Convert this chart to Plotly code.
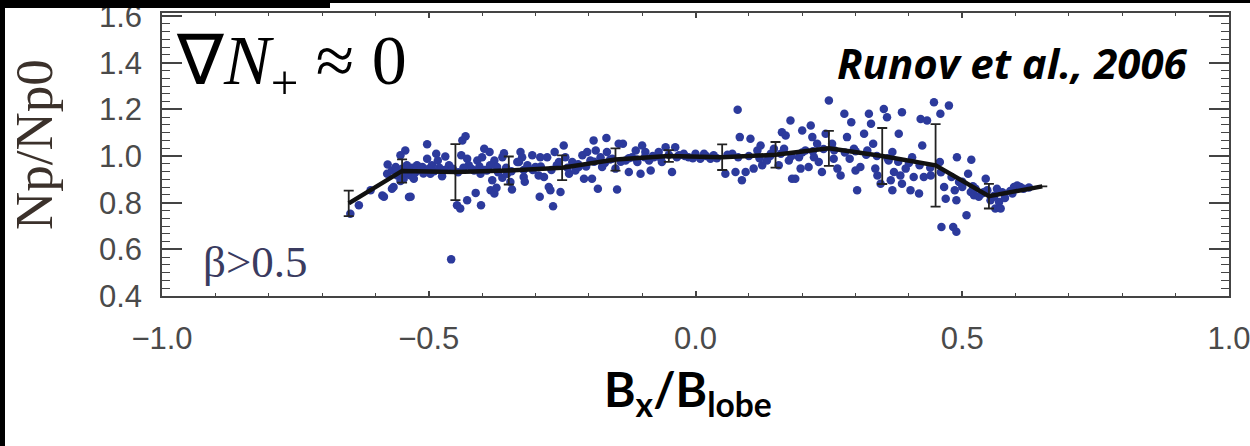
import plotly.graph_objects as go

# ---------------- data ----------------
bx = [
    -0.647, -0.631, -0.609, -0.587, -0.566, -0.578, -0.537, -0.584, -0.569, -0.534,
    -0.577, -0.569, -0.559, -0.553, -0.544, -0.553, -0.541, -0.531, -0.522, -0.512,
    -0.534, -0.503, -0.503, -0.494, -0.486, -0.483, -0.475, -0.469, -0.462, -0.437,
    -0.431, -0.447, -0.441, -0.428, -0.412, -0.402, -0.439, -0.428, -0.425, -0.409,
    -0.400, -0.396, -0.386, -0.377, -0.372, -0.381, -0.384, -0.377, -0.373, -0.362,
    -0.359, -0.362, -0.353, -0.347, -0.344, -0.334, -0.403, -0.391, -0.415, -0.497,
    -0.562, -0.547, -0.528, -0.458,
    -0.328, -0.325, -0.331, -0.322, -0.322, -0.320, -0.306, -0.300, -0.291, -0.294,
    -0.292, -0.284, -0.278, -0.275, -0.272, -0.267, -0.264, -0.256, -0.253, -0.247,
    -0.244, -0.237, -0.231, -0.225, -0.219, -0.212, -0.209, -0.203, -0.197, -0.194,
    -0.191, -0.187, -0.183, -0.178, -0.175, -0.167, -0.166, -0.156, -0.150, -0.147,
    -0.144, -0.136, -0.131, -0.125, -0.119, -0.112, -0.109, -0.103, -0.100, -0.094,
    -0.087, -0.084, -0.078, -0.069, -0.063, -0.056, -0.044, -0.038, -0.031, -0.022,
    -0.013, 0.000, 0.009,
    0.016, 0.028, 0.034, 0.056, 0.069, 0.075, 0.079, 0.083, 0.087, 0.094,
    0.103, 0.109, 0.116, 0.122, 0.125, 0.134, 0.141, 0.147, 0.156, 0.162,
    0.166, 0.169, 0.175, 0.178, 0.181, 0.187, 0.194, 0.197, 0.200, 0.206,
    0.212, 0.216, 0.219, 0.222, 0.228, 0.231, 0.237, 0.244, 0.250, 0.256,
    0.259, 0.266, 0.272, 0.279, 0.284, 0.289, 0.292, 0.297, 0.300, 0.303,
    0.309, 0.316, 0.322, 0.325, 0.329, 0.333, 0.337, 0.341, 0.347,
    0.353, 0.359, 0.369, 0.362, 0.366, 0.372, 0.369, 0.381, 0.387, 0.384,
    0.387, 0.394, 0.403, 0.406, 0.409, 0.419, 0.422, 0.425, 0.428, 0.434,
    0.441, 0.447, 0.459, 0.458, 0.466, 0.469, 0.475, 0.461, 0.483, 0.489,
    0.486, 0.490, 0.494, 0.489, 0.500, 0.508, 0.511, 0.517, 0.516, 0.522,
    0.525, 0.531, 0.537, 0.544, 0.547, 0.553, 0.559, 0.562, 0.565, 0.569,
    0.572, 0.594, 0.597, 0.603, 0.609,
    -0.560, -0.550, -0.545, -0.535, -0.525, -0.515, -0.510, -0.500, -0.490, -0.480,
    -0.470, -0.455, -0.445, -0.435, -0.420, -0.405, -0.395, -0.385, -0.370, -0.355,
    -0.345, -0.315, -0.305, -0.290, -0.270, -0.260, -0.240, -0.220, -0.205, -0.190,
    -0.170, -0.160, -0.140, -0.125, -0.110, -0.095, -0.080, -0.065, -0.050, -0.035,
    -0.020, -0.005, 0.020, 0.040, 0.060, 0.080, 0.100, 0.120, 0.140, 0.160,
    0.180, 0.200, 0.220, 0.240, 0.260, 0.280, 0.300, 0.320, 0.340, 0.360,
    0.380, 0.400, 0.420, 0.440, 0.460, 0.480, 0.500, 0.520, 0.540, 0.560,
    0.575, 0.580, 0.590, 0.615, 0.625,
]
np_ratio = [
    0.753, 0.789, 0.853, 0.831, 0.867, 0.924, 0.824, 0.825, 0.860, 0.825,
    0.964, 0.938, 0.917, 0.893, 1.024, 1.003, 0.960, 0.950, 0.960, 0.953,
    0.917, 1.050, 0.988, 0.960, 1.010, 0.981, 0.913, 0.998, 0.960, 1.067,
    1.085, 0.789, 0.775, 0.810, 0.842, 0.789, 1.003, 0.988, 0.960, 0.981,
    0.995, 1.031, 1.017, 0.981, 0.953, 0.896, 0.853, 0.839, 0.864, 0.995,
    1.012, 0.907, 0.924, 0.889, 0.856, 0.974, 0.924, 0.938, 0.938, 0.924,
    0.953, 0.903, 0.903, 0.557,
    1.017, 0.995, 0.974, 0.940, 0.910, 0.890, 1.003, 0.953, 0.995, 0.917,
    0.825, 0.910, 0.995, 0.867, 0.853, 0.785, 1.017, 0.974, 0.846, 1.045,
    0.995, 0.924, 0.974, 0.938, 0.953, 1.003, 0.903, 1.017, 0.981, 0.903,
    1.067, 1.024, 0.860, 0.995, 0.953, 1.077, 1.017, 0.988, 0.946, 0.856,
    1.053, 1.053, 0.981, 0.931, 0.995, 1.024, 0.974, 0.924, 1.045, 1.017,
    0.981, 0.938, 0.995, 1.017, 0.974, 1.038, 0.931, 1.038, 1.003, 1.010,
    0.995, 1.010, 0.988,
    1.010, 0.988, 1.003, 0.924, 1.010, 0.931, 1.198, 1.081, 0.896, 0.931,
    1.074, 0.946, 1.024, 1.045, 0.960, 0.981, 1.010, 1.031, 0.960, 1.102,
    1.031, 1.088, 0.981, 1.152, 0.903, 0.903, 0.995, 0.946, 1.109, 1.024,
    0.953, 1.131, 1.081, 0.995, 1.053, 0.974, 0.931, 1.095, 1.238, 1.053,
    0.988, 0.946, 0.917, 1.181, 1.081, 0.988, 1.145, 1.031, 0.938, 0.853,
    0.953, 1.095, 1.024, 1.181, 1.138, 1.053, 0.946, 0.917, 0.881,
    1.202, 1.166, 1.017, 0.981, 0.896, 0.931, 0.853, 1.095, 1.188, 0.917,
    0.881, 0.946, 0.853, 0.995, 0.910, 0.839, 1.159, 1.045, 0.910, 1.152,
    0.917, 1.230, 1.181, 0.974, 0.867, 0.817, 1.216, 0.696, 0.696, 0.675,
    0.853, 0.995, 0.889, 0.810, 0.867, 0.746, 0.924, 0.984, 0.846, 0.832,
    0.860, 0.825, 0.839, 0.903, 0.853, 0.810, 0.825, 0.775, 0.860, 0.803,
    0.775, 0.839, 0.867, 0.874, 0.867,
    0.935, 0.945, 0.930, 0.940, 0.930, 0.940, 0.925, 0.945, 0.935, 0.950,
    0.940, 0.945, 0.930, 0.950, 0.945, 0.955, 0.940, 0.960, 0.930, 0.950,
    0.935, 0.960, 0.940, 0.955, 0.940, 0.960, 0.950, 0.965, 0.955, 0.975,
    0.970, 0.985, 0.975, 0.990, 0.985, 0.995, 1.000, 0.990, 1.005, 0.995,
    1.000, 0.990, 1.000, 0.990, 1.005, 0.995, 1.000, 0.990, 1.000, 1.010,
    1.000, 1.015, 1.020, 1.030, 1.025, 1.015, 1.020, 1.005, 1.000, 0.990,
    0.975, 0.970, 0.960, 0.950, 0.930, 0.910, 0.890, 0.870, 0.845, 0.830,
    0.845, 0.820, 0.850, 0.860, 0.865,
]

# binned averages with error bars
bin_x = [-0.65, -0.55, -0.45, -0.35, -0.25, -0.15, -0.05, 0.05, 0.15, 0.25, 0.35, 0.45, 0.55, 0.65]
bin_y = [0.797, 0.936, 0.931, 0.938, 0.950, 0.985, 1.000, 0.995, 1.005, 1.033, 1.000, 0.960, 0.828, 0.870]
bin_err = [0.055, 0.050, 0.120, 0.060, 0.053, 0.048, 0.025, 0.055, 0.055, 0.075, 0.120, 0.177, 0.053, None]

x_tickvals = [-1.0, -0.5, 0.0, 0.5, 1.0]
x_ticktext = ["\u22121.0", "\u22120.5", "0.0", "0.5", "1.0"]
y_tickvals = [0.4, 0.6, 0.8, 1.0, 1.2, 1.4, 1.6]
y_ticktext = ["0.4", "0.6", "0.8", "1.0", "1.2", "1.4", "1.6"]

# ---------------- layout geometry (pixels) ----------------
W, H = 1250, 446
L, R, T, B = 162, 1229, 13, 296


def px(x):
    return (x - L) / (R - L)


def py(y):
    return (B - y) / (B - T)


AX = "#444444"
DOT = "#2c3a9c"

fig = go.Figure()
fig.add_trace(go.Scatter(
    x=bx, y=np_ratio, mode="markers",
    marker=dict(color=DOT, size=8.5, line=dict(width=0)),
    showlegend=False, hoverinfo="skip",
))
fig.add_trace(go.Scatter(
    x=bin_x, y=bin_y, mode="lines",
    line=dict(color="#111111", width=4.5),
    error_y=dict(type="data", array=bin_err, visible=True,
                 color="#222222", thickness=1.8, width=5),
    showlegend=False,
))

tickfont = dict(family="Liberation Sans, Arial, sans-serif", size=31, color="#4a4a4a")

fig.update_xaxes(
    range=[-1.0, 1.0], tickmode="array", tickvals=x_tickvals, ticktext=x_ticktext,
    ticks="inside", ticklen=5, tickwidth=1.5, tickcolor=AX,
    showline=True, linecolor=AX, linewidth=1.6, mirror="allticks",
    showgrid=False, zeroline=False, tickfont=tickfont, ticklabelstandoff=14,
    ticklabeloverflow="allow", automargin=False,
    minor=dict(tick0=-1.0, dtick=0.1, ticks="inside", ticklen=3, tickwidth=1.2,
               tickcolor=AX, showgrid=False),
)
fig.update_yaxes(
    range=[0.4, 1.613], tickmode="array", tickvals=y_tickvals, ticktext=y_ticktext,
    ticks="inside", ticklen=20, tickwidth=1.6, tickcolor=AX,
    showline=True, linecolor=AX, linewidth=1.6, mirror="allticks",
    showgrid=False, zeroline=False, tickfont=tickfont, ticklabelstandoff=12,
    ticklabeloverflow="allow", automargin=False,
    minor=dict(tick0=0.4, dtick=0.2 / 6, ticks="inside", ticklen=8, tickwidth=1.2,
               tickcolor=AX, showgrid=False),
)

annotations = [
    dict(text="\u2207<i>N</i><sub>+</sub> \u2248 0", x=px(174), y=py(66),
         xanchor="left", yanchor="middle", showarrow=False,
         font=dict(family="Liberation Serif, Times New Roman, serif", size=70, color="#000000")),
    dict(text="<b><i>Runov et al., 2006</i></b>", x=px(1012), y=py(62),
         xanchor="center", yanchor="middle", showarrow=False,
         font=dict(family="Open Sans, sans-serif", size=42, color="#000000")),
    dict(text="\u03b2>0.5", x=px(201), y=py(262),
         xanchor="left", yanchor="middle", showarrow=False,
         font=dict(family="Liberation Serif, Times New Roman, serif", size=45, color="#3a3b60")),
    dict(text="Np/Np0", x=px(34), y=py(145), textangle=-90,
         xanchor="center", yanchor="middle", showarrow=False,
         font=dict(family="Liberation Serif, Times New Roman, serif", size=53, color="#3b312b")),
    dict(text="<b>B<sub>x</sub>/B<sub>lobe</sub></b>", x=px(688), y=py(392),
         xanchor="center", yanchor="middle", showarrow=False,
         font=dict(family="Lato, Open Sans, sans-serif", size=48, color="#000000")),
]
for a in annotations:
    a["xref"] = "paper"
    a["yref"] = "paper"

shapes = [
    # black frame remnants at the top and left edges of the picture
    dict(type="rect", xref="paper", yref="paper", x0=px(0), x1=px(W), y0=py(0), y1=py(3),
         fillcolor="#000000", line=dict(width=0), layer="above"),
    dict(type="rect", xref="paper", yref="paper", x0=px(0), x1=px(330), y0=py(0), y1=py(8),
         fillcolor="#000000", line=dict(width=0), layer="above"),
    dict(type="rect", xref="paper", yref="paper", x0=px(0), x1=px(5), y0=py(0), y1=py(H),
         fillcolor="#000000", line=dict(width=0), layer="above"),
]

fig.update_layout(
    width=W, height=H,
    margin=dict(l=L, r=W - R, t=T, b=H - B, pad=0, autoexpand=False),
    paper_bgcolor="#ffffff", plot_bgcolor="#ffffff",
    showlegend=False,
    annotations=annotations, shapes=shapes,
)

fig.write_html("out.html")
